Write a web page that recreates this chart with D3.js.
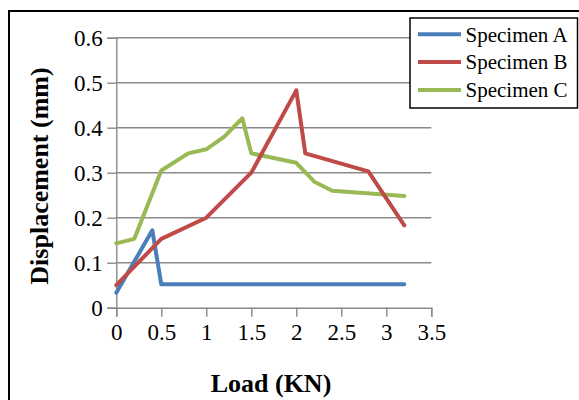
<!DOCTYPE html>
<html><head><meta charset="utf-8">
<script src="https://cdn.jsdelivr.net/npm/d3@7"></script>
<style>html,body{margin:0;padding:0;background:#fff;}svg{display:block;}</style>
</head><body>
<svg id="chart" width="579" height="400"></svg>
<script>
const xTicks = [0, 0.5, 1, 1.5, 2, 2.5, 3, 3.5];
const xTickLabels = ["0", "0.5", "1", "1.5", "2", "2.5", "3", "3.5"];
const yTicks = [0, 0.1, 0.2, 0.3, 0.4, 0.5, 0.6];
const yTickLabels = ["0", "0.1", "0.2", "0.3", "0.4", "0.5", "0.6"];

const seriesNames = ["Specimen A", "Specimen B", "Specimen C"];
const loadA = [0, 0.4, 0.5, 3.2];
const dispA = [0.033, 0.172, 0.052, 0.052];
const loadB = [0, 0.5, 1.0, 1.5, 2.0, 2.1, 2.8, 3.2];
const dispB = [0.05, 0.153, 0.2, 0.3, 0.483, 0.343, 0.303, 0.183];
const loadC = [0, 0.2, 0.5, 0.8, 1.0, 1.2, 1.4, 1.5, 2.0, 2.2, 2.4, 3.2];
const dispC = [0.143, 0.153, 0.305, 0.343, 0.352, 0.38, 0.421, 0.343, 0.322, 0.28, 0.26, 0.248];

const colors = ["#4A7EBB", "#BE4B48", "#98B954"];
const series = [
  {name: seriesNames[0], x: loadA, y: dispA, color: colors[0]},
  {name: seriesNames[1], x: loadB, y: dispB, color: colors[1]},
  {name: seriesNames[2], x: loadC, y: dispC, color: colors[2]}
];

const svg = d3.select("#chart");
const font = "'Liberation Serif', 'Times New Roman', serif";

// outer frame (top and left edges visible)
svg.append("path").attr("d", "M9,420 L9,11 L600,11")
  .attr("fill", "none").attr("stroke", "#000").attr("stroke-width", 2);

const x = d3.scaleLinear().domain([0, 3.5]).range([116.3, 431.3]);
const y = d3.scaleLinear().domain([0, 0.6]).range([307.7, 37.7]);

// gridlines
svg.append("g").selectAll("line").data(yTicks.filter(d => d > 0)).join("line")
  .attr("x1", x(0)).attr("x2", x(3.5))
  .attr("y1", d => y(d)).attr("y2", d => y(d))
  .attr("stroke", "#8a8a8a").attr("stroke-width", 1.4);

// y axis
const yAxis = d3.axisLeft(y).tickValues(yTicks).tickSize(9).tickPadding(4.5)
  .tickFormat((d, i) => yTickLabels[i]);
const gy = svg.append("g").attr("transform", `translate(${x(0)},0)`).call(yAxis);
gy.select(".domain").attr("stroke", "#8a8a8a").attr("stroke-width", 1.4);
gy.selectAll(".tick line").attr("stroke", "#8a8a8a").attr("stroke-width", 1.4);
gy.selectAll(".tick text").attr("font-family", font).attr("font-size", 23).attr("fill", "#000");

// x axis
const xAxis = d3.axisBottom(x).tickValues(xTicks).tickSize(9).tickPadding(7)
  .tickFormat((d, i) => xTickLabels[i]);
const gx = svg.append("g").attr("transform", `translate(0,${y(0)})`).call(xAxis);
gx.select(".domain").attr("stroke", "#8a8a8a").attr("stroke-width", 1.4);
gx.selectAll(".tick line").attr("stroke", "#8a8a8a").attr("stroke-width", 1.4);
gx.selectAll(".tick text").attr("font-family", font).attr("font-size", 23).attr("fill", "#000");

// lines
const line = d3.line().x(d => x(d[0])).y(d => y(d[1]));
const drawOrder = [2, 0, 1];
drawOrder.forEach(i => {
  const s = series[i];
  svg.append("path")
    .datum(s.x.map((v, j) => [v, s.y[j]]))
    .attr("d", line)
    .attr("fill", "none")
    .attr("stroke", s.color)
    .attr("stroke-width", 4)
    .attr("stroke-linejoin", "round")
    .attr("stroke-linecap", "round");
});

// axis titles
svg.append("text").attr("x", 271).attr("y", 392)
  .attr("text-anchor", "middle").attr("font-family", font)
  .attr("font-weight", "bold").attr("font-size", 26).text("Load (KN)");
svg.append("text")
  .attr("transform", "translate(48,176) rotate(-90)")
  .attr("text-anchor", "middle").attr("font-family", font)
  .attr("font-weight", "bold").attr("font-size", 26)
  .text("Displacement (mm)");

// legend
const lg = svg.append("g");
lg.append("rect").attr("x", 410).attr("y", 18).attr("width", 167.5).attr("height", 90)
  .attr("fill", "#fff").attr("stroke", "#000").attr("stroke-width", 1.5);
series.forEach((s, i) => {
  const cy = 34.3 + i * 27.8;
  lg.append("line").attr("x1", 418).attr("x2", 461).attr("y1", cy).attr("y2", cy)
    .attr("stroke", s.color).attr("stroke-width", 4);
  lg.append("text").attr("x", 465.5).attr("y", cy + 7.3)
    .attr("font-family", font).attr("font-size", 21).text(s.name);
});
</script>
</body></html>
